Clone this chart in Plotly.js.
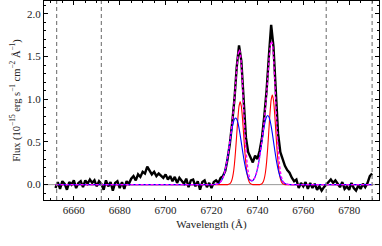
<!DOCTYPE html>
<html><head><meta charset="utf-8">
<script src="https://cdn.plot.ly/plotly-3.0.1.min.js"></script>
<style>html,body{margin:0;padding:0;background:#fff}#c{width:382px;height:246px}</style>
</head><body><div id="c"></div>
<script>
// Observed spectrum (1 Å sampling)
const specStart = 6652;
const fluxObs = [
 -0.04, 0.03,-0.05, 0.04, 0.01,-0.06, 0.03, 0.00, 0.05,-0.04,
  0.02, 0.04,-0.03, 0.05, 0.01, 0.06, 0.02, 0.05,-0.02, 0.04,
  0.01,-0.06, 0.05,-0.02, 0.03,-0.07, 0.02, 0.04,-0.04, 0.03,
 -0.05, 0.04, 0.01, 0.07, 0.10, 0.05, 0.12, 0.09, 0.15, 0.13,
  0.21, 0.17, 0.12, 0.15, 0.10, 0.13, 0.11, 0.08, 0.12, 0.06,
  0.10, 0.04, 0.09, 0.02, 0.08, 0.05, 0.01, 0.07,-0.03, 0.05,
  0.06,-0.02, 0.04,-0.06, 0.03, 0.05,
 -0.03, 0.02,-0.04, 0.03, 0.05, 0.02, 0.08, 0.10, 0.16, 0.30,
  0.48, 0.72, 1.00, 1.38, 1.63, 1.45, 0.98, 0.55, 0.38, 0.32,
  0.26, 0.34, 0.30, 0.40, 0.55, 0.80, 1.10, 1.50, 1.87, 1.62,
  1.05, 0.60, 0.38, 0.30, 0.22, 0.17, 0.14, 0.08, 0.04, 0.06,
 -0.04, 0.02,
 -0.02, 0.03,-0.05, 0.02,-0.04, 0.01,-0.06,-0.02,-0.07,-0.03,
  0.00, 0.03, 0.06, 0.02, 0.05, 0.01,-0.03, 0.03,-0.05,-0.02,
 -0.06, 0.02,-0.04,-0.07,-0.01,-0.05, 0.01,-0.03, 0.02, 0.10, 0.13
];
const waveObs = fluxObs.map((_, i) => specStart + i);

// Model grid: ends of fitting window plus 0.5 Å sampling across the lines
const modelStart = 6720, modelStep = 0.5, modelEnds = [6652, 6790];
const broad = [ // blue components
 0,0,0.001,0.002,0.004,0.007,0.012,0.021,0.034,0.055,
 0.083,0.122,0.175,0.239,0.315,0.401,0.491,0.580,0.661,0.725,
 0.766,0.780,0.766,0.725,0.661,0.580,0.491,0.401,0.315,0.239,
 0.175,0.124,0.087,0.062,0.047,0.043,0.048,0.064,0.091,0.129,
 0.182,0.248,0.327,0.416,0.510,0.603,0.686,0.752,0.795,0.810,
 0.795,0.752,0.686,0.603,0.510,0.416,0.327,0.248,0.181,0.127,
 0.087,0.057,0.036,0.022,0.013,0.007,0.004,0.002,0.001,0,
 0,0,0,0,0,0,0,0,0,0,0
];
const narrow = [ // red components
 0,0,0,0,0,0,0,0,0,0,
 0,0,0,0,0,0.004,0.011,0.028,0.064,0.131,
 0.242,0.399,0.589,0.777,0.918,0.970,0.918,0.777,0.589,0.399,
 0.242,0.131,0.064,0.028,0.011,0.004,0,0,0,0,
 0,0,0,0.004,0.012,0.030,0.069,0.142,0.261,0.432,
 0.637,0.841,0.993,1.050,0.993,0.841,0.637,0.432,0.261,0.142,
 0.069,0.030,0.012,0.004,0,0,0,0,0,0,
 0,0,0,0,0,0,0,0,0,0,0
];
const total = [ // total fit
 0,0,0.001,0.002,0.004,0.007,0.012,0.021,0.034,0.055,
 0.083,0.122,0.175,0.239,0.315,0.405,0.502,0.608,0.725,0.856,
 1.008,1.179,1.355,1.502,1.579,1.550,1.409,1.178,0.904,0.638,
 0.417,0.255,0.151,0.090,0.058,0.047,0.048,0.064,0.091,0.129,
 0.182,0.248,0.327,0.420,0.522,0.633,0.755,0.894,1.056,1.242,
 1.432,1.593,1.679,1.653,1.503,1.257,0.964,0.680,0.442,0.269,
 0.156,0.087,0.048,0.026,0.013,0.007,0.004,0.002,0.001,0,
 0,0,0,0,0,0,0,0,0,0,0
];
const waveModelCore = broad.map((_, i) => modelStart + i * modelStep);
const waveModel = [modelEnds[0], ...waveModelCore, modelEnds[1]];
const wrap = a => [0, ...a, 0];

const windowEdges = [6652.5, 6672, 6770, 6790];
const xRange = [6647, 6793], yRange = [-0.18, 2.15];

const font = 'Liberation Serif, Times New Roman, serif';
const traces = [
 {x: waveObs, y: fluxObs, mode: 'lines', line: {color: '#000', width: 2.4}, hoverinfo: 'skip'},
 {x: waveModel, y: wrap(narrow), mode: 'lines', line: {color: '#ff0000', width: 1.1, shape: 'spline', smoothing: 0.6}},
 {x: waveModel, y: wrap(broad), mode: 'lines', line: {color: '#0000ff', width: 1.1, shape: 'spline', smoothing: 0.6}},
 {x: waveModel, y: wrap(total), mode: 'lines', line: {color: '#ff00ff', width: 1.4, dash: '3px,2px', shape: 'spline', smoothing: 0.6}}
];
const shapes = windowEdges.map(v => ({type: 'line', xref: 'x', yref: 'paper', x0: v, x1: v, y0: 0, y1: 1,
  line: {color: '#808080', width: 1.2, dash: '4px,3px'}, layer: 'above'}));
shapes.push({type: 'line', xref: 'paper', yref: 'y', x0: 0, x1: 1, y0: 0, y1: 0, line: {color: '#999', width: 1}, layer: 'below'});

const axisCommon = {showline: true, linecolor: '#000', linewidth: 1, mirror: 'allticks', ticks: 'inside',
  ticklen: 4, tickwidth: 1, tickcolor: '#000', showgrid: false, zeroline: false,
  tickfont: {family: font, size: 11, color: '#222'}};
const layout = {
  width: 382, height: 246, margin: {l: 44, r: 3, t: 1, b: 46},
  paper_bgcolor: '#fff', plot_bgcolor: '#fff', showlegend: false,
  font: {family: font, color: '#222'},
  xaxis: Object.assign({}, axisCommon, {range: xRange, tick0: 6660, dtick: 20,
    minor: {dtick: 5, ticks: 'inside', ticklen: 2, tickcolor: '#000', showgrid: false},
    title: {text: 'Wavelength (Å)', font: {family: font, size: 11}, standoff: 5}}),
  yaxis: Object.assign({}, axisCommon, {range: yRange, tick0: 0, dtick: 0.5, tickformat: '.1f',
    minor: {dtick: 0.1, ticks: 'inside', ticklen: 2, tickcolor: '#000', showgrid: false},
    title: {text: 'Flux (10<sup>−15</sup> erg s<sup>−1</sup> cm<sup>−2</sup> Å<sup>−1</sup>)', font: {family: font, size: 10.5}, standoff: 4}}),
  shapes: shapes
};
Plotly.newPlot('c', traces, layout, {staticPlot: true, displayModeBar: false});
</script></body></html>
